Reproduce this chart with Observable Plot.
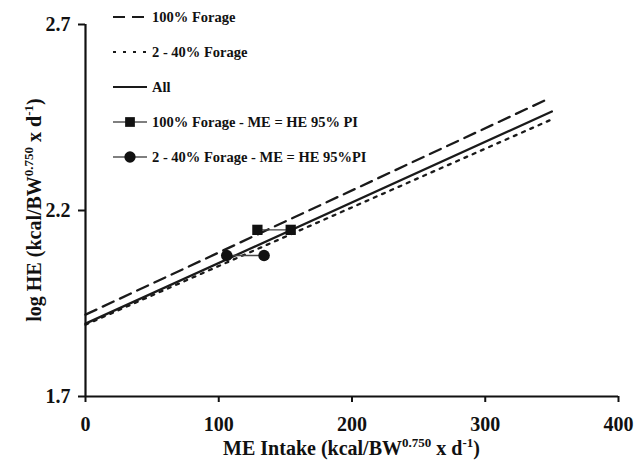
<!DOCTYPE html>
<html><head><meta charset="utf-8">
<script src="https://cdn.jsdelivr.net/npm/d3@7"></script>
<script src="https://cdn.jsdelivr.net/npm/@observablehq/plot@0.6"></script>
<style>
body{margin:0;background:#fff}
#chart{position:relative;width:634px;height:460px}
</style>
</head><body><div id="chart"></div>
<script>
// Regression lines
const lineSeries = ["100% Forage", "2 - 40% Forage", "All"];
const lineStartX = [0, 0, 0];
const lineEndX = [346, 350, 350];
const lineStartY = [1.920, 1.893, 1.896];
const lineEndY = [2.498, 2.445, 2.466];
// 95% prediction interval points (ME = HE)
const piSeries = ["100% Forage - ME = HE 95% PI", "2 - 40% Forage - ME = HE 95%PI"];
const piLowX = [129, 106];
const piHighX = [154, 134];
const piY = [2.148, 2.079];
const piSymbols = ["square", "circle"];
// Axes
const xTicks = [0, 100, 200, 300, 400];
const yTicks = [1.7, 2.2, 2.7];

const dashes = {"100% Forage": "12,7", "2 - 40% Forage": "3,6", "All": "none"};
const font = "'Liberation Serif', 'Times New Roman', serif";

const lineData = lineSeries.flatMap((s, i) => [
  {s, x: lineStartX[i], y: lineStartY[i]},
  {s, x: lineEndX[i], y: lineEndY[i]}
]);
const piData = piSeries.flatMap((s, i) => [
  {s, sym: piSymbols[i], x: piLowX[i], y: piY[i]},
  {s, sym: piSymbols[i], x: piHighX[i], y: piY[i]}
]);

const W = 634, H = 460, mL = 85, mT = 24, mR = 16, mB = 64;

const plot = Plot.plot({
  width: W, height: H,
  marginLeft: mL, marginTop: mT, marginRight: mR, marginBottom: mB,
  style: {fontFamily: font, fontWeight: "bold", fontSize: "20px", color: "#111", background: "#fff", overflow: "visible"},
  x: {domain: [0, 400]},
  y: {domain: [1.7, 2.7]},
  marks: [
    ...lineSeries.map(s => Plot.line(lineData.filter(d => d.s === s), {
      x: "x", y: "y", stroke: "#1a1a1a", strokeWidth: 2.3, strokeDasharray: dashes[s]
    })),
    ...piSeries.map((s, i) => Plot.line(piData.filter(d => d.s === s), {
      x: "x", y: "y", stroke: "#444", strokeWidth: 1.3
    })),
    ...piSeries.map((s, i) => Plot.dot(piData.filter(d => d.s === s), {
      x: "x", y: "y", symbol: piSymbols[i], fill: "#111", stroke: "none", r: 5.8
    })),
    Plot.ruleX([0], {stroke: "#111", strokeWidth: 2.2}),
    Plot.ruleY([1.7], {stroke: "#111", strokeWidth: 2.2}),
    Plot.axisX({ticks: xTicks, tickSize: 6, tickPadding: 14, strokeWidth: 2, label: null, tickFormat: d => String(d)}),
    Plot.axisY({ticks: yTicks, tickSize: 7, tickPadding: 8, strokeWidth: 2, label: null, tickFormat: d3.format(".1f")})
  ]
});
document.getElementById("chart").appendChild(plot);

const svg = d3.select(plot);
// Axis titles with superscripts
function title(sel, main) {
  sel.attr("text-anchor", "middle").attr("font-size", 20).attr("font-weight", "bold")
    .attr("font-family", font).attr("fill", "#111");
  sel.append("tspan").text(main + " (kcal/BW");
  sel.append("tspan").attr("font-size", 13).attr("dy", -8).text("0.750");
  sel.append("tspan").attr("dy", 8).text(" x d");
  sel.append("tspan").attr("font-size", 13).attr("dy", -8).text("-1");
  sel.append("tspan").attr("dy", 8).text(")");
}
title(svg.append("text").attr("x", mL + (W - mL - mR) / 2).attr("y", 455), "ME Intake");
title(svg.append("text").attr("transform", `translate(41,${mT + (H - mT - mB) / 2}) rotate(-90)`), "log HE");

// Legend
const legendItems = [...lineSeries.map(s => ({label: s, type: "line", dash: dashes[s]})),
  ...piSeries.map((s, i) => ({label: s, type: "pi", sym: piSymbols[i]}))];
const lg = svg.append("g").attr("font-family", font).attr("font-weight", "bold")
  .attr("font-size", 14.5).attr("fill", "#111").attr("text-anchor", "start");
legendItems.forEach((it, i) => {
  const cy = 17 + i * 35;
  const g = lg.append("g").attr("transform", `translate(0,${cy})`);
  if (it.type === "line") {
    g.append("line").attr("x1", 113).attr("x2", 147).attr("y1", 0).attr("y2", 0)
      .attr("stroke", "#1a1a1a").attr("stroke-width", 2.2).attr("stroke-dasharray", it.dash === "3,6" ? "3,7" : it.dash);
  } else {
    g.append("line").attr("x1", 113).attr("x2", 147).attr("y1", 0).attr("y2", 0)
      .attr("stroke", "#555").attr("stroke-width", 1.3);
    const sym = it.sym === "square" ? d3.symbolSquare : d3.symbolCircle;
    const size = it.sym === "square" ? 95 : 100;
    g.append("path").attr("transform", "translate(130,0)").attr("d", d3.symbol(sym, size)()).attr("fill", "#111");
  }
  g.append("text").attr("x", 152).attr("y", 5).attr("text-anchor", "start").text(it.label);
});
</script>
</body></html>
